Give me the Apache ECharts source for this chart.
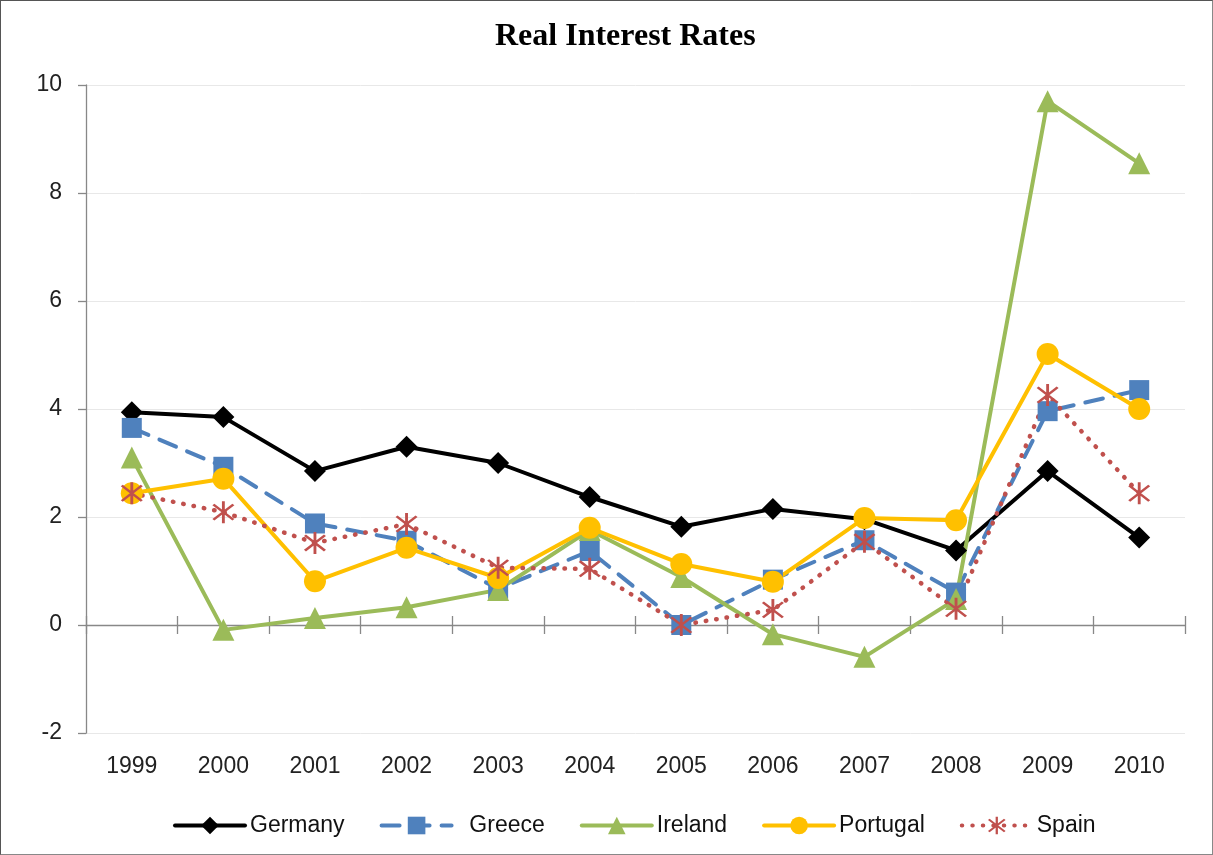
<!DOCTYPE html>
<html>
<head>
<meta charset="utf-8">
<script src="https://cdn.jsdelivr.net/npm/echarts@6/dist/echarts.min.js"></script>
<style>
html,body{margin:0;padding:0;background:#fff;}
#c{position:absolute;left:0;top:0;width:1211px;height:853px;border:1px solid #555;border-right-color:#888;border-bottom-color:#888;}
</style>
</head>
<body>
<div id="c"></div>
<script>
const years = ['1999','2000','2001','2002','2003','2004','2005','2006','2007','2008','2009','2010'];
const yTicks = {min: -2, max: 10, interval: 2};
const germany  = [3.94, 3.85, 2.85, 3.30, 3.00, 2.37, 1.82, 2.15, 1.96, 1.38, 2.85, 1.62];
const greece   = [3.65, 2.93, 1.88, 1.56, 0.67, 1.37, 0.00, 0.84, 1.57, 0.60, 3.96, 4.35];
const ireland  = [3.10, -0.09, 0.13, 0.33, 0.65, 1.76, 0.89, -0.17, -0.59, 0.48, 9.70, 8.55];
const portugal = [2.44, 2.71, 0.81, 1.43, 0.87, 1.80, 1.13, 0.80, 1.98, 1.94, 5.02, 4.00];
const spain    = [2.44, 2.09, 1.52, 1.87, 1.06, 1.04, 0.00, 0.28, 1.54, 0.30, 4.26, 2.44];

const asterisk = 'path://M-1,-10L1,-10L1,10L-1,10Z M-6.3,-7.7L7.7,6.3L6.3,7.7L-7.7,-6.3Z M-7.7,6.3L6.3,-7.7L7.7,-6.3L-6.3,7.7Z';
const font = 'Liberation Sans, Arial, sans-serif';
const axisGray = '#888';

function mk(name, data, color, symbol, size, lineType, lw) {
  return {
    name, type: 'line', data,
    symbol, symbolSize: size,
    showAllSymbol: true,
    lineStyle: {color, width: lw || 4, type: lineType, cap: 'round'},
    itemStyle: {color, borderWidth: 0},
    emphasis: {disabled: true},
    animation: false,
    xAxisIndex: 0, yAxisIndex: 0
  };
}

const gridBox = {left: 85, right: 27, top: 84, bottom: 121, containLabel: false};
function hiddenY(i) {
  return {type: 'value', gridIndex: i, min: yTicks.min, max: yTicks.max, interval: yTicks.interval,
    axisLine: {show: false}, axisTick: {show: false}, splitLine: {show: false}, axisLabel: {show: false}};
}
function zeroX(i, inside) {
  return {type: 'category', data: years, gridIndex: i, position: 'bottom',
    axisLine: {show: true, onZero: true, lineStyle: {color: inside ? 'rgba(0,0,0,0)' : axisGray, width: 1.3}},
    axisTick: {show: true, inside: inside, length: 9, lineStyle: {color: axisGray, width: 1.3}},
    axisLabel: {show: false}, splitLine: {show: false}};
}

const chart = echarts.init(document.getElementById('c'), null, {renderer: 'canvas'});
chart.setOption({
  backgroundColor: '#fff',
  animation: false,
  title: {
    text: 'Real Interest Rates', left: 489, top: 15,
    textStyle: {fontFamily: 'Liberation Serif, Times New Roman, serif', fontWeight: 'bold', fontSize: 32, color: '#000'}
  },
  grid: [Object.assign({}, gridBox), Object.assign({}, gridBox), Object.assign({}, gridBox)],
  legend: {
    bottom: 12, left: 167, itemWidth: 70, itemHeight: 22, itemGap: 35,
    lineStyle: {width: 4},
    formatter: function (n) { return n === 'Greece' ? '  ' + n : n; },
    textStyle: {fontFamily: font, fontSize: 23, color: '#111'},
    data: ['Germany', 'Greece', 'Ireland', 'Portugal', 'Spain']
  },
  xAxis: [
    {type: 'category', data: years, gridIndex: 0, position: 'bottom',
     axisLine: {show: false, onZero: false}, axisTick: {show: false},
     axisLabel: {fontFamily: font, fontSize: 23, color: '#222', margin: 22}},
    zeroX(1, false),
    zeroX(2, true)
  ],
  yAxis: [
    {type: 'value', gridIndex: 0, min: yTicks.min, max: yTicks.max, interval: yTicks.interval,
     axisLine: {show: true, lineStyle: {color: axisGray, width: 1.3}},
     axisTick: {show: true, length: 8, lineStyle: {color: axisGray, width: 1.3}},
     splitLine: {lineStyle: {color: '#e8e8e8', width: 1}},
     axisLabel: {fontFamily: font, fontSize: 23, color: '#222', margin: 24}},
    hiddenY(1),
    hiddenY(2)
  ],
  series: [
    mk('Germany', germany, '#000000', 'diamond', 22, 'solid'),
    mk('Greece', greece, '#4F81BD', 'rect', 20, [18, 12]),
    mk('Ireland', ireland, '#9BBB59', 'triangle', 22, 'solid'),
    mk('Portugal', portugal, '#FFC000', 'circle', 22, 'solid'),
    mk('Spain', spain, '#C0504D', asterisk, 22, [0.5, 10], 4.5)
  ]
});
</script>
</body>
</html>
